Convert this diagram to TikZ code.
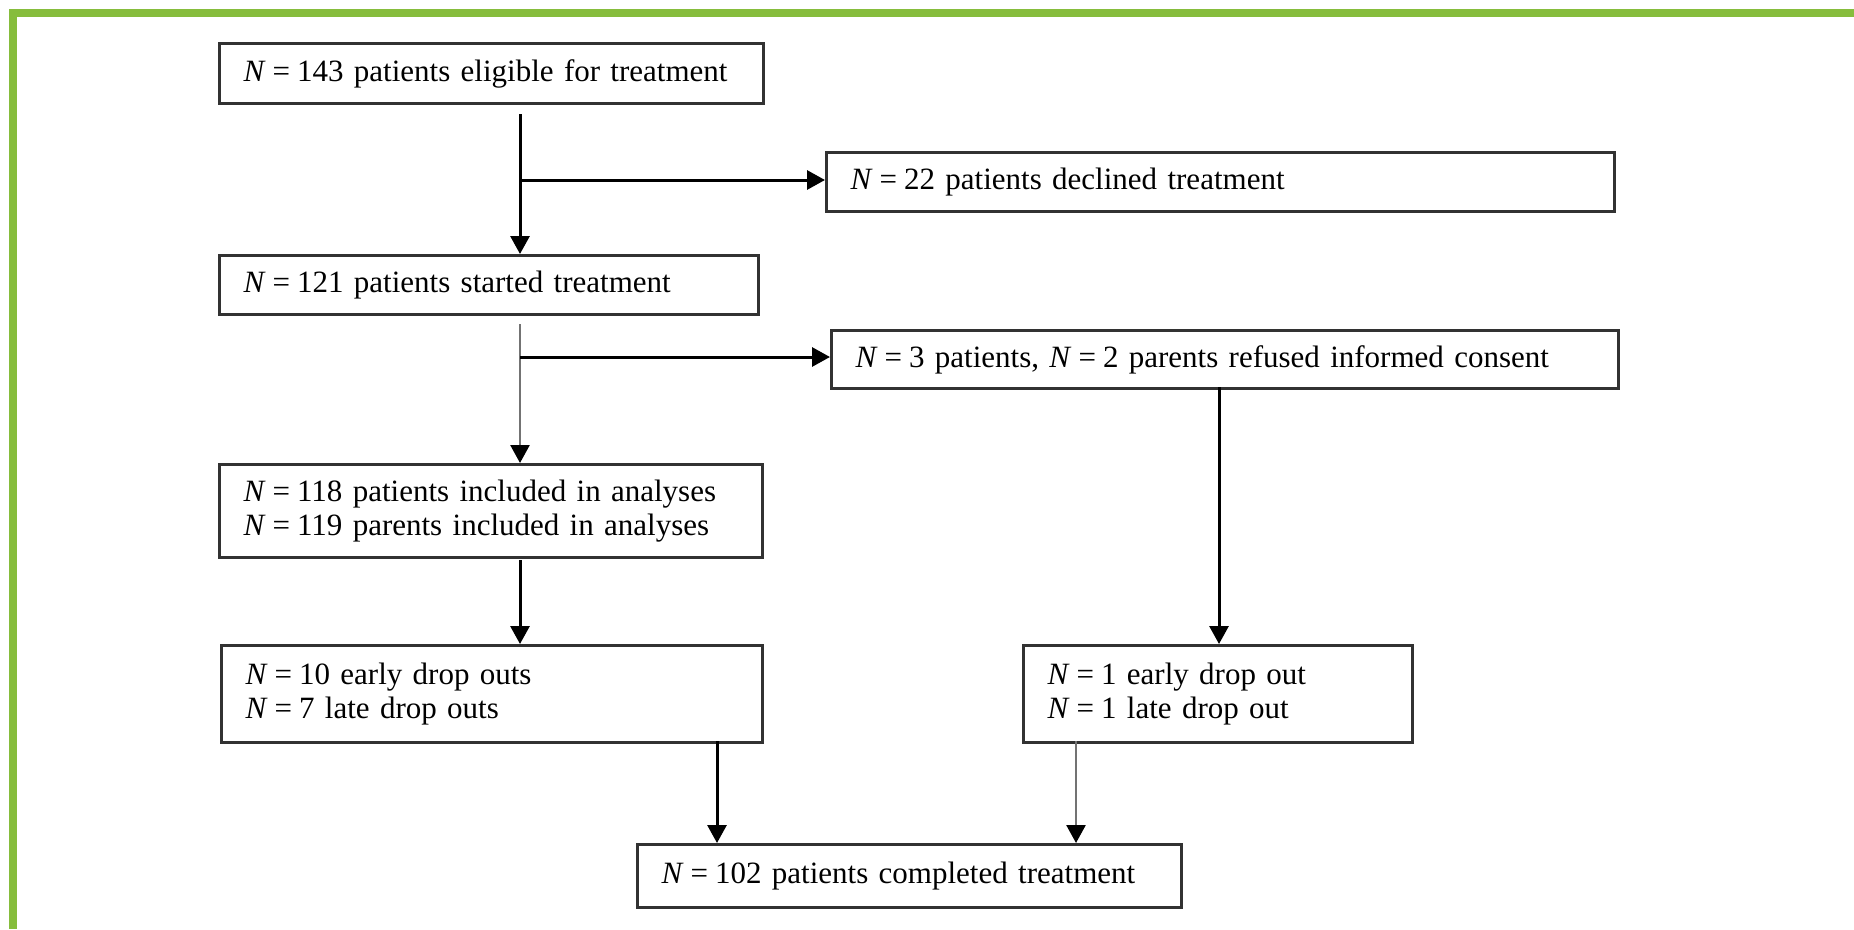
\documentclass[tikz,border=0pt]{standalone}
\usepackage{fontspec}
\setmainfont{Liberation Serif}
\usetikzlibrary{arrows.meta,calc}
\definecolor{frameGreen}{RGB}{134,189,60}
\definecolor{boxline}{RGB}{50,50,50}
\newcommand{\NN}{\textit{N}\kern7pt=\kern7pt}
\begin{document}
\begin{tikzpicture}[x=1pt,y=-1pt,
  box/.style={draw=boxline, line width=3pt, rectangle, anchor=north west,
    inner xsep=24pt, inner ysep=0pt, align=left,
    font=\fontsize{31}{34}\selectfont},
  arr/.style={draw=black, line width=3pt, -{Triangle[width=19pt,length=18pt]}},
  arrlight/.style={draw=black!55, line width=2.6pt, -{Triangle[width=19pt,length=18pt,color=black]}},
  plain/.style={draw=black, line width=3pt}]
\path[use as bounding box] (0,0) rectangle (1854,929);
% frame
\fill[frameGreen] (9,9) rectangle (1854,17);
\fill[frameGreen] (9,9) rectangle (17,929);
% boxes
\node[box, minimum width=544pt, minimum height=60pt, text width=496pt] (b1) at (218,42)
  {\NN 143 patients eligible for treatment};
\node[box, minimum width=788pt, minimum height=59pt, text width=740pt] (b2) at (825,151)
  {\NN 22 patients declined treatment};
\node[box, minimum width=539pt, minimum height=59pt, text width=491pt] (b3) at (218,254)
  {\NN 121 patients started treatment};
\node[box, minimum width=787pt, minimum height=58pt, text width=739pt] (b4) at (830,329)
  {\NN 3 patients, \NN 2 parents refused informed consent};
\node[box, minimum width=543pt, minimum height=93pt, text width=495pt] (b5) at (218,463)
  {\NN 118 patients included in analyses\\\NN 119 parents included in analyses};
\node[box, minimum width=541pt, minimum height=97pt, text width=493pt] (b6) at (220,644)
  {\NN 10 early drop outs\\\NN 7 late drop outs};
\node[box, minimum width=389pt, minimum height=97pt, text width=341pt] (b7) at (1022,644)
  {\NN 1 early drop out\\\NN 1 late drop out};
\node[box, minimum width=544pt, minimum height=63pt, text width=496pt] (b8) at (636,843)
  {\NN 102 patients completed treatment};
% connector points
\coordinate (s1) at (520,114);
\coordinate (j1) at (520,180);
\coordinate (s2) at (520,324);
\coordinate (j2) at (520,357);
\coordinate (s3) at (520,560);
\coordinate (s4) at (1219,387);
\coordinate (s5) at (717,741);
\coordinate (s6) at (1076,741);
% connectors
\draw[arr] (s1) -- (s1 |- b3.north);
\draw[arr] (j1) -- (j1 -| b2.west);
\draw[arrlight] (s2) -- (s2 |- b5.north);
\draw[arr] (j2) -- (j2 -| b4.west);
\draw[arr] (s3) -- (s3 |- b6.north);
\draw[arr] (s4) -- (s4 |- b7.north);
\draw[arr] (s5) -- (s5 |- b8.north);
\draw[arrlight] (s6) -- (s6 |- b8.north);
\end{tikzpicture}
\end{document}
